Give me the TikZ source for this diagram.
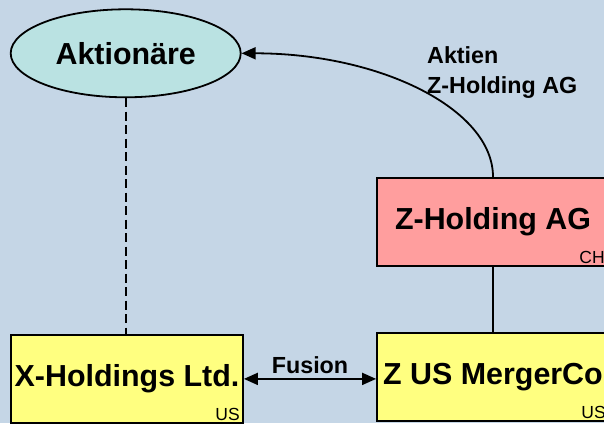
\documentclass[tikz,border=0pt]{standalone}
\usepackage{fontspec}
\setmainfont{Liberation Sans}
\usetikzlibrary{shapes.geometric,arrows.meta}

\definecolor{bgblue}{RGB}{197,214,230}
\definecolor{shareholder}{RGB}{186,226,226}
\definecolor{holdingred}{RGB}{255,158,158}
\definecolor{entityyellow}{RGB}{255,255,128}

\tikzset{
  entity/.style={draw=black, line width=1.8pt, minimum width=232pt, minimum height=88.3pt,
    inner sep=0pt, font=\fontsize{30.4}{36}\selectfont\bfseries},
  owners/.style={ellipse, draw=black, line width=1.8pt, fill=shareholder,
    minimum width=230pt, minimum height=88pt, inner sep=0pt,
    font=\fontsize{30.4}{36}\selectfont\bfseries},
  country/.style={anchor=base east, inner sep=0pt, font=\fontsize{17.5}{20}\selectfont},
  flowlabel/.style={inner sep=0pt, font=\fontsize{23.3}{30}\selectfont\bfseries},
  link/.style={line width=1.8pt},
  tip/.style={-{Triangle[length=14pt,width=12pt]}},
}

\begin{document}
\begin{tikzpicture}[x=1pt, y=-1pt]
  \fill[bgblue] (0,0) rectangle (604,423);
  \useasboundingbox (0,0) rectangle (604,423);
  \clip (0,0) rectangle (604,423);

  % shareholders and companies
  \node[owners] (aktionaere) at (125.7,53.3) {Aktionäre};
  \node[entity, fill=holdingred] (zholding) at (493,221.9) {Z-Holding AG};
  \node[entity, fill=entityyellow] (xholdings) at (127,378.9) {X-Holdings Ltd.};
  \node[entity, fill=entityyellow] (merger) at (493,376.9) {Z US MergerCo};

  % country of incorporation
  \node[country, xshift=-5pt, yshift=3pt] (chlabel) at (zholding.south east) {CH};
  \node[country, xshift=-4pt, yshift=3pt] (uslabelx) at (xholdings.south east) {US};
  \node[country, xshift=-4pt, yshift=3pt] (uslabelm) at (merger.south east) {US};

  % connections
  \draw[link, dash pattern=on 9pt off 4.5pt] (aktionaere.south) -- (xholdings.north -| aktionaere.south);
  \draw[link] (zholding.south) -- (merger.north -| zholding.south);
  \draw[link, {Triangle[length=14pt,width=12pt]}-{Triangle[length=14pt,width=12pt]}]
    (xholdings.east) -- (xholdings.east -| merger.west)
    node[midway, flowlabel, anchor=base, yshift=5.5pt] (fusion) {Fusion};
  \draw[link, tip] (zholding.north) .. controls +(0,-68) and +(138,0) .. (aktionaere.east);

  \node[flowlabel, anchor=north west, align=left] (shares) at (427,46) {Aktien\\Z-Holding AG};
\end{tikzpicture}
\end{document}
